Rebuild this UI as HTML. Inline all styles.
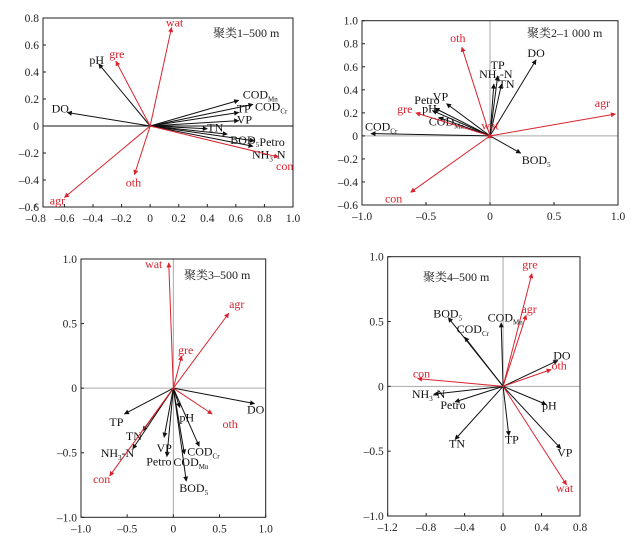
<!DOCTYPE html>
<html><head><meta charset="utf-8"><style>
html,body{margin:0;padding:0;background:#fff}
svg{display:block;font-family:"Liberation Serif","Noto Serif CJK SC",serif}
</style></head><body>
<svg id="chart" width="635" height="538" viewBox="0 0 635 538" xmlns="http://www.w3.org/2000/svg">
<defs>
<marker id="ab" viewBox="0 0 10 10" refX="9" refY="5" markerWidth="7" markerHeight="5" markerUnits="userSpaceOnUse" orient="auto"><path d="M0,0 L10,5 L0,10 z" fill="#111"/></marker>
<marker id="ar" viewBox="0 0 10 10" refX="9" refY="5" markerWidth="7" markerHeight="5" markerUnits="userSpaceOnUse" orient="auto"><path d="M0,0 L10,5 L0,10 z" fill="#d9232e"/></marker>
</defs>
</svg>
<script>
// ---------- data ----------
const p1RedNames=["wat","gre","oth","agr","con"];
const p1RedX=[0.15,-0.24,-0.11,-0.6,0.9];
const p1RedY=[0.73,0.48,-0.36,-0.53,-0.23];
const p1BlackNames=["pH","DO","COD_Mn","COD_Cr","TP","VP","TN","BOD_5","Petro","NH_3_-N"];
const p1BlackX=[-0.36,-0.58,0.62,0.72,0.62,0.62,0.4,0.54,0.73,0.72];
const p1BlackY=[0.46,0.1,0.19,0.16,0.1,0.04,-0.02,-0.06,-0.11,-0.15];

const p2RedNames=["oth","gre","agr","con","wat"];
const p2RedX=[-0.22,-0.58,0.98,-0.62,0];
const p2RedY=[0.77,0.2,0.19,-0.49,0.02];
const p2BlackNames=["DO","TP","NH_3_-N","TN","VP","Petro","pH","COD_Mn","COD_Cr","BOD_5"];
const p2BlackX=[0.36,0.06,0.03,0.09,-0.34,-0.43,-0.45,-0.4,-0.93,0.24];
const p2BlackY=[0.66,0.52,0.45,0.45,0.28,0.24,0.22,0.16,0.02,-0.15];

const p3RedNames=["wat","agr","gre","oth","con"];
const p3RedX=[-0.05,0.6,0.09,0.42,-0.69];
const p3RedY=[0.97,0.58,0.25,-0.2,-0.68];
const p3BlackNames=["DO","TP","TN","NH_3_-N","VP","Petro","pH","COD_Cr","COD_Mn","BOD_5"];
const p3BlackX=[0.88,-0.53,-0.33,-0.44,-0.1,-0.07,0.07,0.28,0.12,0.14];
const p3BlackY=[-0.12,-0.2,-0.33,-0.47,-0.38,-0.53,-0.15,-0.45,-0.51,-0.72];

const p4RedNames=["gre","agr","oth","con","wat"];
const p4RedX=[0.3,0.24,0.5,-0.89,0.66];
const p4RedY=[0.87,0.55,0.13,0.06,-0.76];
const p4BlackNames=["BOD_5","COD_Cr","COD_Mn","DO","pH","VP","TP","TN","Petro","NH_3_-N"];
const p4BlackX=[-0.57,-0.4,-0.02,0.57,0.45,0.6,0.06,-0.5,-0.5,-0.72];
const p4BlackY=[0.53,0.38,0.49,0.2,-0.14,-0.48,-0.38,-0.41,-0.12,-0.06];

const p1XTicks=[-0.8,-0.6,-0.4,-0.2,0,0.2,0.4,0.6,0.8,1.0];
const p1XTickLabels=["–0.8","–0.6","–0.4","–0.2","0","0.2","0.4","0.6","0.8","1.0"];
const p1YTicks=[0.8,0.6,0.4,0.2,0,-0.2,-0.4,-0.6];
const p1YTickLabels=["0.8","0.6","0.4","0.2","0","–0.2","–0.4","–0.6"];
const p2XTicks=[-1,-0.5,0,0.5,1];
const p2XTickLabels=["–1.0","–0.5","0","0.5","1.0"];
const p2YTicks=[1,0.8,0.6,0.4,0.2,0,-0.2,-0.4,-0.6];
const p2YTickLabels=["1.0","0.8","0.6","0.4","0.2","0","–0.2","–0.4","–0.6"];
const p3XTicks=[-1,-0.5,0,0.5,1];
const p3XTickLabels=["–1.0","–0.5","0","0.5","1.0"];
const p3YTicks=[1,0.5,0,-0.5,-1];
const p3YTickLabels=["1.0","0.5","0","–0.5","–1.0"];
const p4XTicks=[-1.2,-0.8,-0.4,0,0.4,0.8];
const p4XTickLabels=["–1.2","–0.8","–0.4","0","0.4","0.8"];
const p4YTicks=[1,0.5,0,-0.5,-1];
const p4YTickLabels=["1.0","0.5","0","–0.5","–1.0"];

// ---------- label layout (pixel offsets from arrow tip) ----------
const p1RedOff=[[3,-1,"m"],[1,-3,"m"],[-1,12,"m"],[-7,7,"m"],[6,13,"m"]];
const p1BlackOff=[[-2,0,"m"],[-7,0,"m"],[4,-2,"s"],[2,6,"s"],[-2,0,"s"],[-2,3,"s"],[0,3,"s"],[3,10,"s"],[5,5,"s"],[-1,12,"s"]];
const p2RedOff=[[-4,-5,"m"],[-11,0,"m"],[-13,-7,"m"],[-17,10,"m"],[0,-4,"m"]];
const p2BlackOff=[[0,-3,"m"],[0,-7,"m"],[2,-6,"m"],[5,4,"m"],[-6,-3,"m"],[-8,-4,"m"],[-3,2,"m"],[-10,8,"s"],[-6,-3,"s"],[1,11,"s"]];
const p3RedOff=[[-15,5,"m"],[8,-5,"m"],[4,-2,"m"],[18,14,"m"],[-8,7,"m"]];
const p3BlackOff=[[1,10,"m"],[-8,12,"m"],[-9,9,"m"],[-32,8,"s"],[0,15,"m"],[-8,9,"m"],[7,14,"m"],[-12,9,"s"],[-11,12,"s"],[-7,11,"s"]];
const p4RedOff=[[-2,-5,"m"],[3,-2,"m"],[8,0,"m"],[4,-1,"m"],[-2,7,"m"]];
const p4BlackOff=[[-15,0,"s"],[-8,-4,"s"],[-13.5,-1.5,"s"],[4,-1,"m"],[3,5,"m"],[4,8,"m"],[3,8,"m"],[2,8,"m"],[-2,7,"m"],[-22,4,"s"]];

const NS="http://www.w3.org/2000/svg";
const svg=document.getElementById('chart');
const RED="#d9232e";
function scale(d0,d1,r0,r1){return v=>r0+(v-d0)/(d1-d0)*(r1-r0);}
function mk(tag,attrs,parent){const e=document.createElementNS(NS,tag);for(const k in attrs)e.setAttribute(k,attrs[k]);(parent||svg).appendChild(e);return e;}
function richText(el,name){
  const parts=name.split("_");
  parts.forEach((p,i)=>{if(!p)return;const t=document.createElementNS(NS,'tspan');t.textContent=p;
    if(i%2===1){t.setAttribute('font-size','7');t.setAttribute('dy','3');}
    else if(i>0){t.setAttribute('dy','-3');}
    el.appendChild(t);});
}
function panel(id,cfg,redN,redX,redY,redOff,blkN,blkX,blkY,blkOff,xt,xtl,yt,ytl){
  const g=mk('g',{});
  
  
  const sx=scale(cfg.xd[0],cfg.xd[1],cfg.xr[0],cfg.xr[1]);
  const sy=scale(cfg.yd[0],cfg.yd[1],cfg.yr[0],cfg.yr[1]);
  const x0=cfg.xr[0],x1=cfg.xr[1],y0=cfg.yr[1],y1=cfg.yr[0];
  // zero lines
  if(cfg.black0){
    const l=mk('line',{x1:x0,x2:x1,y1:sy(0),y2:sy(0),stroke:'#111','stroke-width':1},g);
    
    
  } else {
    const l1=mk('line',{x1:x0,x2:x1,y1:sy(0),y2:sy(0),stroke:'#aaa','stroke-width':1},g);
    
    
    const l2=mk('line',{x1:sx(0),x2:sx(0),y1:y0,y2:y1,stroke:'#aaa','stroke-width':1},g);
    
    
  }
  const fr=mk('rect',{x:x0,y:y0,width:x1-x0,height:y1-y0,fill:'none',stroke:'#222','stroke-width':1},g);
  
  
  xt.forEach((v,i)=>{
    const t=mk('text',{x:sx(v),y:y1+15,'text-anchor':'middle','font-size':11.5,fill:'#222'},g);
    t.textContent=xtl[i];
    
    
    mk('line',{x1:sx(v),x2:sx(v),y1:y1,y2:y1-3,stroke:'#222'},g);
  });
  yt.forEach((v,i)=>{
    const t=mk('text',{x:x0-4,y:sy(v)+4,'text-anchor':'end','font-size':11.5,fill:'#222'},g);
    t.textContent=ytl[i];
    
    
    mk('line',{x1:x0,x2:x0+3,y1:sy(v),y2:sy(v),stroke:'#222'},g);
  });
  const tt=mk('text',{x:cfg.title[0],y:cfg.title[1],'font-size':12,fill:'#222'},g);
  tt.textContent=cfg.titleText;
  
  
  function vecs(names,xs,ys,offs,color,mid,kind){
    names.forEach((n,i)=>{
      const tx=sx(xs[i]),ty=sy(ys[i]);
      const l=mk('line',{x1:sx(0),y1:sy(0),x2:tx,y2:ty,stroke:color,'stroke-width':1,'marker-end':'url(#'+mid+')'},g);
      
      
      const o=offs[i];
      const t=mk('text',{x:tx+o[0],y:ty+o[1],'text-anchor':o[2]==='m'?'middle':'start','font-size':12,fill:color},g);
      richText(t,n);
      
      
    });
  }
  vecs(blkN,blkX,blkY,blkOff,'#111','ab','variable');
  vecs(redN,redX,redY,redOff,RED,'ar','landuse');
}
panel('panel-cluster1',{xd:[-0.75,1.0],xr:[43,293],yd:[-0.6,0.8],yr:[207,18],black0:true,title:[213,37],titleText:'聚类1–500 m'},
  p1RedNames,p1RedX,p1RedY,p1RedOff,p1BlackNames,p1BlackX,p1BlackY,p1BlackOff,p1XTicks,p1XTickLabels,p1YTicks,p1YTickLabels);
panel('panel-cluster2',{xd:[-1,1],xr:[362,618],yd:[-0.6,1.0],yr:[205,20.7],black0:false,title:[527,37],titleText:'聚类2–1 000 m'},
  p2RedNames,p2RedX,p2RedY,p2RedOff,p2BlackNames,p2BlackX,p2BlackY,p2BlackOff,p2XTicks,p2XTickLabels,p2YTicks,p2YTickLabels);
panel('panel-cluster3',{xd:[-1,1],xr:[81,265.7],yd:[-1,1],yr:[517.3,259],black0:false,title:[184,279],titleText:'聚类3–500 m'},
  p3RedNames,p3RedX,p3RedY,p3RedOff,p3BlackNames,p3BlackX,p3BlackY,p3BlackOff,p3XTicks,p3XTickLabels,p3YTicks,p3YTickLabels);
panel('panel-cluster4',{xd:[-1.2,0.8],xr:[387.7,580],yd:[-1,1],yr:[516,256.7],black0:false,title:[423,281],titleText:'聚类4–500 m'},
  p4RedNames,p4RedX,p4RedY,p4RedOff,p4BlackNames,p4BlackX,p4BlackY,p4BlackOff,p4XTicks,p4XTickLabels,p4YTicks,p4YTickLabels);
</script>
</body></html>
